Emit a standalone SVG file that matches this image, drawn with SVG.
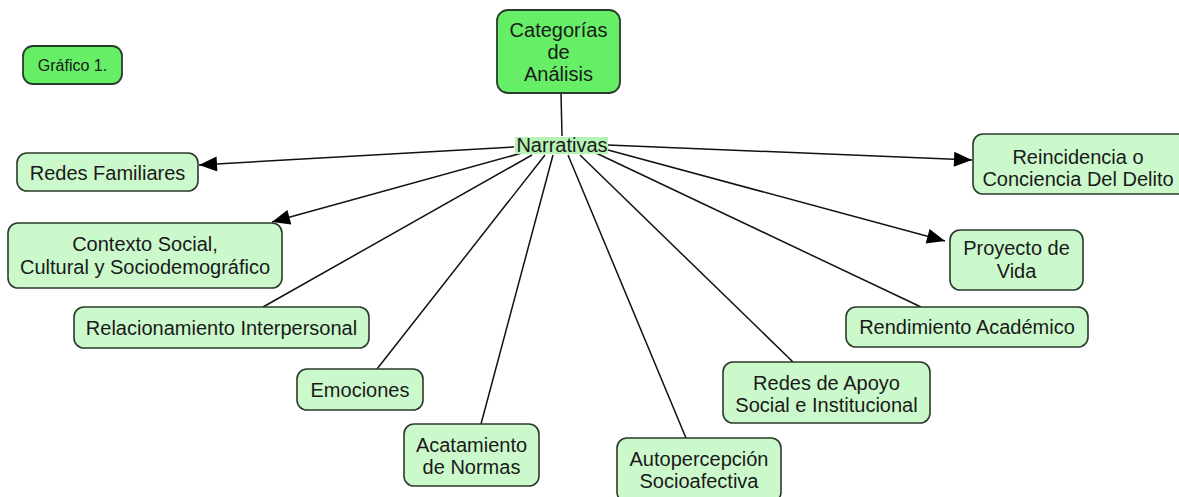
<svg xmlns="http://www.w3.org/2000/svg" width="1179" height="497" viewBox="0 0 1179 497">
<defs>
<style>
.n rect{fill:#ccf9cc;stroke:#2b3a2b;stroke-width:1.6}
.b rect{fill:#66ee66;stroke:#2b3a2b;stroke-width:1.8}
text{font-family:"Liberation Sans",Arial,sans-serif;font-size:20px;fill:#1a1a1a;text-anchor:middle}
.c line{stroke:#111;stroke-width:1.5}
</style>
<marker id="ah" viewBox="0 0 12 10" refX="12" refY="5" markerWidth="20" markerHeight="15" markerUnits="userSpaceOnUse" orient="auto">
<path d="M0,0 L12,5 L0,10 Z" fill="#000"/>
</marker>
</defs>
<g class="c">
<line x1="561" y1="93" x2="562" y2="136"/>
<line x1="514" y1="147" x2="199" y2="165" marker-end="url(#ah)"/>
<line x1="522" y1="153" x2="272" y2="222" marker-end="url(#ah)"/>
<line x1="532" y1="155" x2="263" y2="307"/>
<line x1="545" y1="155" x2="377" y2="369"/>
<line x1="553" y1="155" x2="481" y2="424"/>
<line x1="568" y1="155" x2="686" y2="438"/>
<line x1="580" y1="155" x2="793" y2="362"/>
<line x1="596" y1="153" x2="921" y2="307"/>
<line x1="608" y1="150" x2="945" y2="241" marker-end="url(#ah)"/>
<line x1="608" y1="145" x2="972" y2="160" marker-end="url(#ah)"/>
</g>
<g id="grafico" class="b"><rect x="23" y="46" width="99" height="38" rx="10"/><text x="72.5" y="71" style="font-size:16px">Gráfico 1.</text></g>
<g id="categorias" class="b"><rect x="497" y="10" width="123" height="83" rx="11"/><text x="558.5" y="37">Categorías</text><text x="558.5" y="59">de</text><text x="558.5" y="81">Análisis</text></g>
<g id="narrativas"><rect x="515" y="137" width="93" height="17" fill="#b7f3b7"/><text x="562" y="152">Narrativas</text></g>
<g id="redesfam" class="n"><rect x="17" y="153" width="181" height="38" rx="10"/><text x="107.5" y="180">Redes Familiares</text></g>
<g id="contexto" class="n"><rect x="8" y="223" width="274" height="65" rx="10"/><text x="145" y="251">Contexto Social,</text><text x="145" y="274">Cultural y Sociodemográfico</text></g>
<g id="relacionamiento" class="n"><rect x="74" y="307" width="295" height="41" rx="10"/><text x="221.5" y="335">Relacionamiento Interpersonal</text></g>
<g id="emociones" class="n"><rect x="297" y="369" width="126" height="41" rx="10"/><text x="360" y="397">Emociones</text></g>
<g id="acatamiento" class="n"><rect x="404" y="424" width="135" height="62" rx="10"/><text x="471.5" y="452">Acatamiento</text><text x="471.5" y="474">de Normas</text></g>
<g id="autopercepcion" class="n"><rect x="617" y="438" width="164" height="64" rx="10"/><text x="699" y="466">Autopercepción</text><text x="699" y="488">Socioafectiva</text></g>
<g id="redesapoyo" class="n"><rect x="723" y="362" width="207" height="61" rx="10"/><text x="826.5" y="390">Redes de Apoyo</text><text x="826.5" y="412">Social e Institucional</text></g>
<g id="rendimiento" class="n"><rect x="846" y="307" width="242" height="40" rx="10"/><text x="967" y="334">Rendimiento Académico</text></g>
<g id="proyecto" class="n"><rect x="950" y="230" width="133" height="60" rx="10"/><text x="1016.5" y="255">Proyecto de</text><text x="1016.5" y="278">Vida</text></g>
<g id="reincidencia" class="n"><rect x="973" y="134" width="215" height="60" rx="10"/><text x="1078" y="164">Reincidencia o</text><text x="1078" y="186">Conciencia Del Delito</text></g>
</svg>
